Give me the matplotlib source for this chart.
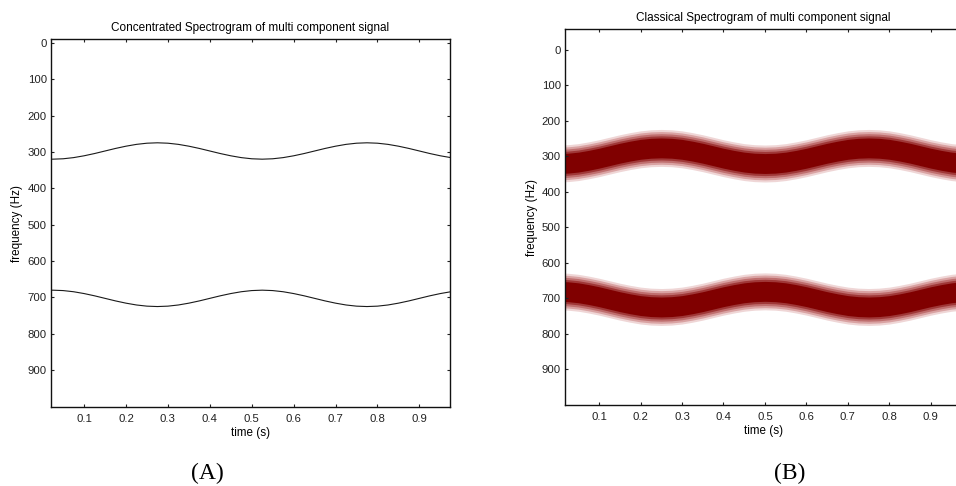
import matplotlib
matplotlib.use("Agg")
import matplotlib.pyplot as plt

plt.rcParams["font.family"] = ["Liberation Sans", "DejaVu Sans"]

# sample times (s)
t = [0.0, 0.025, 0.05, 0.075, 0.1, 0.125, 0.15, 0.175, 0.2, 0.225,
     0.25, 0.275, 0.3, 0.325, 0.35, 0.375, 0.4, 0.425, 0.45, 0.475,
     0.5, 0.525, 0.55, 0.575, 0.6, 0.625, 0.65, 0.675, 0.7, 0.725,
     0.75, 0.775, 0.8, 0.825, 0.85, 0.875, 0.9, 0.925, 0.95, 0.975, 1.0]

# (A) concentrated spectrogram - ridge frequencies (Hz)
conc_upper = [318.9, 320.0, 318.9, 315.7, 310.7, 304.5, 297.5, 290.5, 284.3, 279.3,
              276.1, 275.0, 276.1, 279.3, 284.3, 290.5, 297.5, 304.5, 310.7, 315.7,
              318.9, 320.0, 318.9, 315.7, 310.7, 304.5, 297.5, 290.5, 284.3, 279.3,
              276.1, 275.0, 276.1, 279.3, 284.3, 290.5, 297.5, 304.5, 310.7, 315.7, 318.9]
conc_lower = [681.1, 680.0, 681.1, 684.3, 689.3, 695.5, 702.5, 709.5, 715.7, 720.7,
              723.9, 725.0, 723.9, 720.7, 715.7, 709.5, 702.5, 695.5, 689.3, 684.3,
              681.1, 680.0, 681.1, 684.3, 689.3, 695.5, 702.5, 709.5, 715.7, 720.7,
              723.9, 725.0, 723.9, 720.7, 715.7, 709.5, 702.5, 695.5, 689.3, 684.3, 681.1]

# (B) classical spectrogram - band centres (Hz)
clas_upper = [320, 319, 316, 311, 305, 298, 291, 285, 280, 277,
              276, 277, 280, 285, 291, 298, 305, 311, 316, 319,
              320, 319, 316, 311, 305, 298, 291, 285, 280, 277,
              276, 277, 280, 285, 291, 298, 305, 311, 316, 319, 320]
clas_lower = [680, 681, 684, 689, 695, 702, 709, 715, 720, 723,
              724, 723, 720, 715, 709, 702, 695, 689, 684, 681,
              680, 681, 684, 689, 695, 702, 709, 715, 720, 723,
              724, 723, 720, 715, 709, 702, 695, 689, 684, 681, 680]

x_ticks = [0.1, 0.2, 0.3, 0.4, 0.5, 0.6, 0.7, 0.8, 0.9]
y_ticks = [0, 100, 200, 300, 400, 500, 600, 700, 800, 900]

# band fading: half widths (Hz) and colours, outer to inner
band_widths = [52, 46, 40, 34, 28]
band_colors = ["#efd6d6", "#d9a2a2", "#bf6e6e", "#a03838", "#800000"]

fig = plt.figure(figsize=(9.56, 4.86), dpi=100)
axA = fig.add_axes([0.0533, 0.1626, 0.4174, 0.7562])
axB = fig.add_axes([0.5910, 0.1667, 0.4153, 0.7730])


def style(ax, title):
    ax.set_xticks(x_ticks)
    ax.set_yticks(y_ticks)
    ax.tick_params(direction="in", length=2.5, width=0.8, top=True, right=True,
                   labelsize=8.2, pad=3, colors="#222222")
    ax.tick_params(axis="x", pad=5)
    for s in ax.spines.values():
        s.set_linewidth(1.0)
        s.set_color("#111111")
    ax.set_title(title, fontsize=8.5, pad=6)
    ax.set_xlabel("time (s)", fontsize=8.4, labelpad=2)
    ax.set_ylabel("frequency (Hz)", fontsize=8.4, labelpad=3)


# panel A
axA.plot(t, conc_upper, color="#1a1a1a", lw=0.8)
axA.plot(t, conc_lower, color="#1a1a1a", lw=0.8)
axA.set_xlim(0.021, 0.973)
axA.set_ylim(1001, -9)
style(axA, "Concentrated Spectrogram of multi component signal")

# panel B
for centre in [clas_upper, clas_lower]:
    for w, c in zip(band_widths, band_colors):
        lo = [v - w for v in centre]
        hi = [v + w for v in centre]
        axB.fill_between(t, lo, hi, color=c, lw=0)
axB.set_xlim(0.018, 0.975)
axB.set_ylim(1000, -58)
style(axB, "Classical Spectrogram of multi component signal")

fig.text(207 / 956, 1 - 473 / 486, "(A)", family="Liberation Serif", fontsize=17,
         ha="center", va="center")
fig.text(790 / 956, 1 - 473 / 486, "(B)", family="Liberation Serif", fontsize=17,
         ha="center", va="center")

plt.savefig("out.png", dpi=100)
